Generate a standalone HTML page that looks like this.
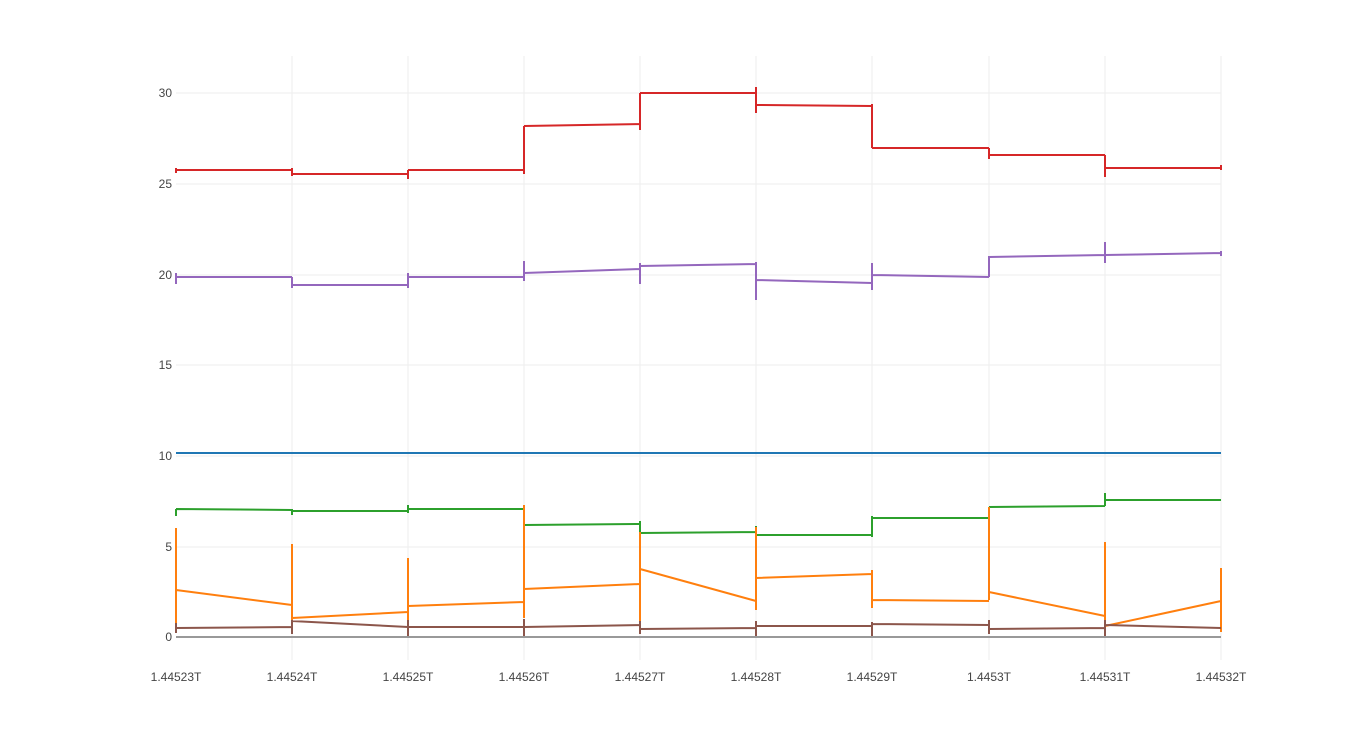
<!DOCTYPE html><html><head><style>body{margin:0;background:#fff}svg{display:block}text{font-family:"Liberation Sans",sans-serif;font-size:12px;fill:#444}</style></head><body>
<svg width="1350" height="750" xmlns="http://www.w3.org/2000/svg">
<g stroke="#eee" stroke-width="1">
<line x1="176" x2="1221" y1="93" y2="93"/><line x1="176" x2="1221" y1="184" y2="184"/><line x1="176" x2="1221" y1="275" y2="275"/><line x1="176" x2="1221" y1="365" y2="365"/><line x1="176" x2="1221" y1="456" y2="456"/><line x1="176" x2="1221" y1="547" y2="547"/>
<line x1="292" x2="292" y1="56" y2="660"/><line x1="408" x2="408" y1="56" y2="660"/><line x1="524" x2="524" y1="56" y2="660"/><line x1="640" x2="640" y1="56" y2="660"/><line x1="756" x2="756" y1="56" y2="660"/><line x1="872" x2="872" y1="56" y2="660"/><line x1="989" x2="989" y1="56" y2="660"/><line x1="1105" x2="1105" y1="56" y2="660"/><line x1="1221" x2="1221" y1="56" y2="660"/>
</g>
<g text-anchor="end"><text x="172" y="97">30</text><text x="172" y="188">25</text><text x="172" y="279">20</text><text x="172" y="369">15</text><text x="172" y="460">10</text><text x="172" y="551">5</text><text x="172" y="641">0</text></g>
<g text-anchor="middle"><text x="176" y="681">1.44523T</text><text x="292" y="681">1.44524T</text><text x="408" y="681">1.44525T</text><text x="524" y="681">1.44526T</text><text x="640" y="681">1.44527T</text><text x="756" y="681">1.44528T</text><text x="872" y="681">1.44529T</text><text x="989" y="681">1.4453T</text><text x="1105" y="681">1.44531T</text><text x="1221" y="681">1.44532T</text></g>
<line x1="176" x2="1221" y1="637" y2="637" stroke="#999" stroke-width="2"/>
<g stroke-width="2" fill="none">
<path stroke="#d62728" d="M176 170L292 170M292 168V176M292 174L408 174M408 170V179M408 170L524 170M524 126V174M524 126L640 124M640 93V130M640 93L756 93M756 87V113M756 105L872 106M872 104V148M872 148L989 148M989 148V159M989 155L1105 155M1105 155V177M1105 168L1221 168M1221 165V170M176 168V173"/>
<path stroke="#9467bd" d="M176 273V284M176 277L292 277M292 277V288M292 285L408 285M408 273V288M408 277L524 277M524 261V281M524 273L640 269M640 263V284M640 266L756 264M756 262V300M756 280L872 283M872 263V290M872 275L989 277M989 256V277M989 257L1105 255M1105 242V263M1105 255L1221 253M1221 251V256"/>
<path stroke="#1f77b4" d="M176 453L1221 453"/>
<path stroke="#2ca02c" d="M176 509V516M176 509L292 510M292 509V515M292 511L408 511M408 505V513M408 509L524 509M524 508V525M524 525L640 524M640 521V537M640 533L756 532M756 526V540M756 535L872 535M872 516V537M872 518L989 518M989 507V518M989 507L1105 506M1105 493V506M1105 500L1221 500"/>
<path stroke="#ff7f0e" d="M176 528V630M176 590L292 605M292 544V632M292 618L408 612M408 558V626M408 606L524 602M524 505V618M524 589L640 584M640 532V622M640 569L756 601M756 527V610M756 578L872 574M872 570V608M872 600L989 601M989 507V600M989 592L1105 616M1105 542V626M1105 626L1221 601M1221 568V632"/>
<path stroke="#8c564b" d="M176 623V633M176 628L292 627M292 620V634M292 621L408 627M408 620V636M408 627L524 627M524 619V636M524 627L640 625M640 621V634M640 629L756 628M756 621V636M756 626L872 626M872 622V636M872 624L989 625M989 620V634M989 629L1105 628M1105 620V636M1105 625L1221 628"/>
</g>
</svg></body></html>
